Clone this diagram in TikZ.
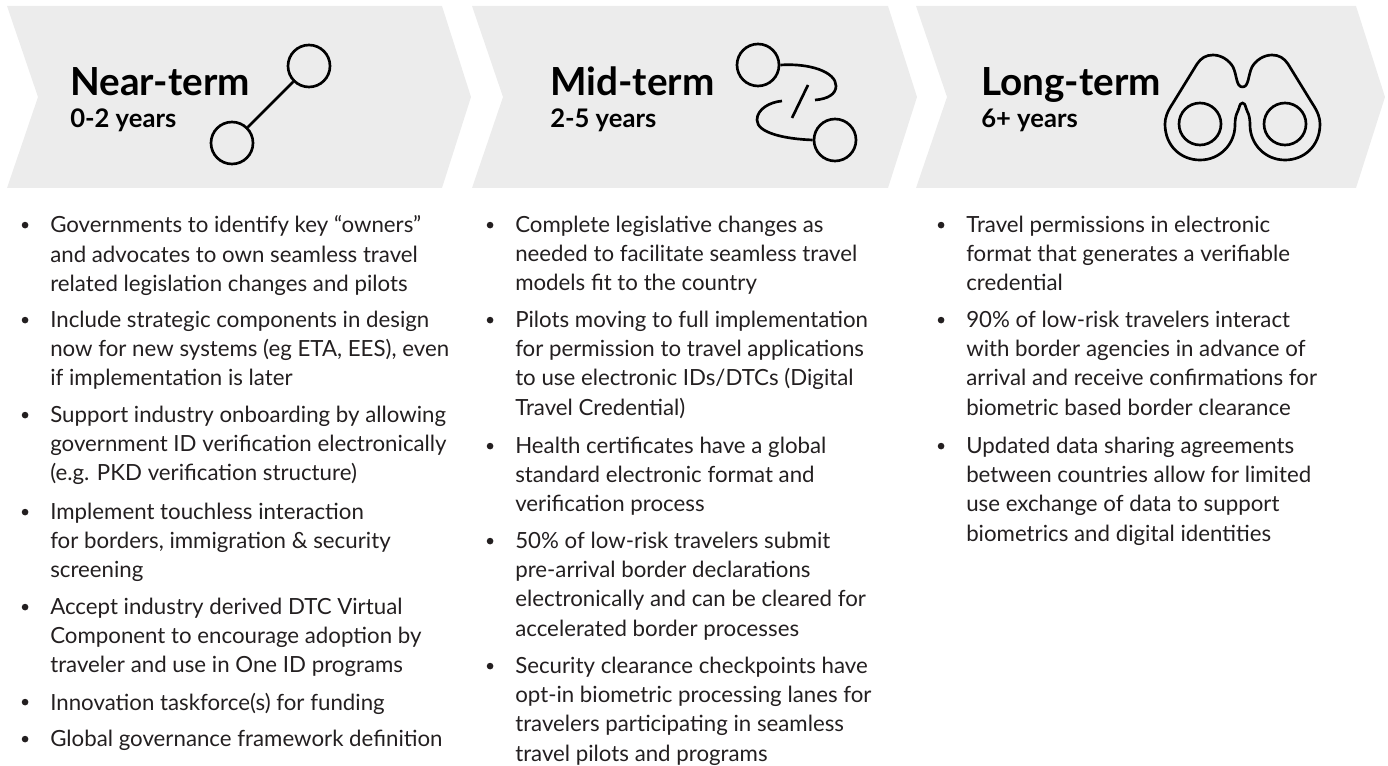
\documentclass[tikz,border=0pt]{standalone}
\usepackage{fontspec}
\setmainfont{Lato}
\usepackage{color}
\usetikzlibrary{positioning}
\definecolor{bandgray}{HTML}{ECECEC}
\definecolor{inkgray}{HTML}{231F20}
\tikzset{
  band/.style={fill=bandgray, draw=none},
  termname/.style={anchor=base west, inner sep=0pt, text=black, font=\fontsize{29}{30}\bfseries\selectfont},
  termspan/.style={anchor=base west, inner sep=0pt, text=black, font=\fontsize{19.2}{22}\bfseries\selectfont},
  itemtext/.style={anchor=north west, inner sep=0pt, align=left, text=inkgray, font=\fontsize{16.7}{22}\selectfont},
  itemdot/.style={circle, fill=inkgray, inner sep=0pt, minimum size=5pt},
  iconring/.style={circle, draw=black, line width=2pt, inner sep=0pt, minimum size=31.5pt},
  iconline/.style={draw=black, line width=2pt}
}
\begin{document}
\begin{tikzpicture}[x=0.75pt, y=-0.75pt]
    \useasboundingbox (0,0) rectangle (1388,766);

    % bands
    \fill[band] (7,6) -- (442,6) -- (471,97) -- (442,188) -- (7,188) -- (38,97) -- cycle;
    \fill[band] (472,6) -- (888,6) -- (917,97) -- (888,188) -- (472,188) -- (503,97) -- cycle;
    \fill[band] (916,6) -- (1356,6) -- (1385,97) -- (1356,188) -- (916,188) -- (947,97) -- cycle;

    % headings
    \node[termname] (near) at (70,96) {Near-term};
    \node[termspan] (nearspan) at (70,128) {0-2 years};
    \node[termname] (mid) at (550,96) {Mid-term};
    \node[termspan] (midspan) at (550,128) {2-5 years};
    \node[termname] (long) at (981,96) {Long-term};
    \node[termspan] (longspan) at (981,128) {6+ years};

    % near-term icon
    \node[iconring] (n1) at (309,66) {};
    \node[iconring] (n2) at (232,143) {};
    \draw[iconline] (n1) -- (n2);

    % mid-term icon
    \node[iconring] (m1) at (758,65) {};
    \node[iconring] (m2) at (835,140) {};
    \coordinate (m1end) at (815,100);
    \coordinate (m2end) at (782,101);
    \coordinate (s1) at (808,85);
    \coordinate (s2) at (792,118);
    \draw[iconline] (m1.east) .. controls (810,63) and (836,72) .. (836,86) .. controls (836,94) and (828,99) .. (m1end);
    \draw[iconline] (m2.west) .. controls (785,139) and (757,133) .. (757,120) .. controls (757,109) and (770,102) .. (m2end);
    \draw[iconline] (s1) -- (s2);

    % long-term icon
    \node[iconring] (l1) at (1200,124) {};
    \node[iconring] (l2) at (1285,124) {};
    \draw[iconline] (1242.5,87)
      .. controls (1236,87) and (1237,75) .. (1233,67)
      .. controls (1229,60) and (1221,55) .. (1213,55)
      .. controls (1206,55) and (1201,58) .. (1197,64)
      -- (1173,103)
      .. controls (1167,112) and (1165,118) .. (1165,124)
      .. controls (1165,146) and (1181,160) .. (1200,160)
      .. controls (1220,160) and (1235,144) .. (1235,125)
      .. controls (1235,114) and (1238,112) .. (1239,108)
      .. controls (1240,104) and (1241,103) .. (1242.5,103)
      .. controls (1244,103) and (1245,104) .. (1246,108)
      .. controls (1247,112) and (1250,114) .. (1250,125)
      .. controls (1250,144) and (1265,160) .. (1285,160)
      .. controls (1304,160) and (1320,146) .. (1320,124)
      .. controls (1320,118) and (1318,112) .. (1312,103)
      -- (1288,64)
      .. controls (1284,58) and (1279,55) .. (1272,55)
      .. controls (1264,55) and (1256,60) .. (1252,67)
      .. controls (1248,75) and (1249,87) .. (1242.5,87);

    % near-term list
    \node[itemtext] (a1) at (50,215.5) {Governments to identify key “owners”\\and advocates to own seamless travel\\related legislation changes and pilots};
    \node[itemtext] (a2) at (50,310.5) {Include strategic components in design\\now for new systems (eg ETA, EES), even\\if implementation is later};
    \node[itemtext] (a3) at (50,405.5) {Support industry onboarding by allowing\\government ID verification electronically\\(e.g. PKD verification structure)};
    \node[itemtext] (a4) at (50,502.5) {Implement touchless interaction\\for borders, immigration \& security\\screening};
    \node[itemtext] (a5) at (50,597.5) {Accept industry derived DTC Virtual\\Component to encourage adoption by\\traveler and use in One ID programs};
    \node[itemtext] (a6) at (50,692.5) {Innovation taskforce(s) for funding};
    \node[itemtext] (a7) at (50,729.5) {Global governance framework definition};

    % mid-term list
    \node[itemtext] (b1) at (515,215.5) {Complete legislative changes as\\needed to facilitate seamless travel\\models fit to the country};
    \node[itemtext] (b2) at (515,310.5) {Pilots moving to full implementation\\for permission to travel applications\\to use electronic IDs/DTCs (Digital\\Travel Credential)};
    \node[itemtext] (b3) at (515,436.5) {Health certificates have a global\\standard electronic format and\\verification process};
    \node[itemtext] (b4) at (515,531.5) {50\% of low-risk travelers submit\\pre-arrival border declarations\\electronically and can be cleared for\\accelerated border processes};
    \node[itemtext] (b5) at (515,656.5) {Security clearance checkpoints have\\opt-in biometric processing lanes for\\travelers participating in seamless\\travel pilots and programs};

    % long-term list
    \node[itemtext] (c1) at (966,215.5) {Travel permissions in electronic\\format that generates a verifiable\\credential};
    \node[itemtext] (c2) at (966,310.5) {90\% of low-risk travelers interact\\with border agencies in advance of\\arrival and receive confirmations for\\biometric based border clearance};
    \node[itemtext] (c3) at (966,436.5) {Updated data sharing agreements\\between countries allow for limited\\use exchange of data to support\\biometrics and digital identities};

    % bullets
    \foreach \a in {a1,a2,a3,a4,a5,a6,a7,b1,b2,b3,b4,b5,c1,c2,c3}
      \node[itemdot, left=16pt of \a.north west, yshift=-7.2pt] (dot\a) {};
\end{tikzpicture}
\end{document}
